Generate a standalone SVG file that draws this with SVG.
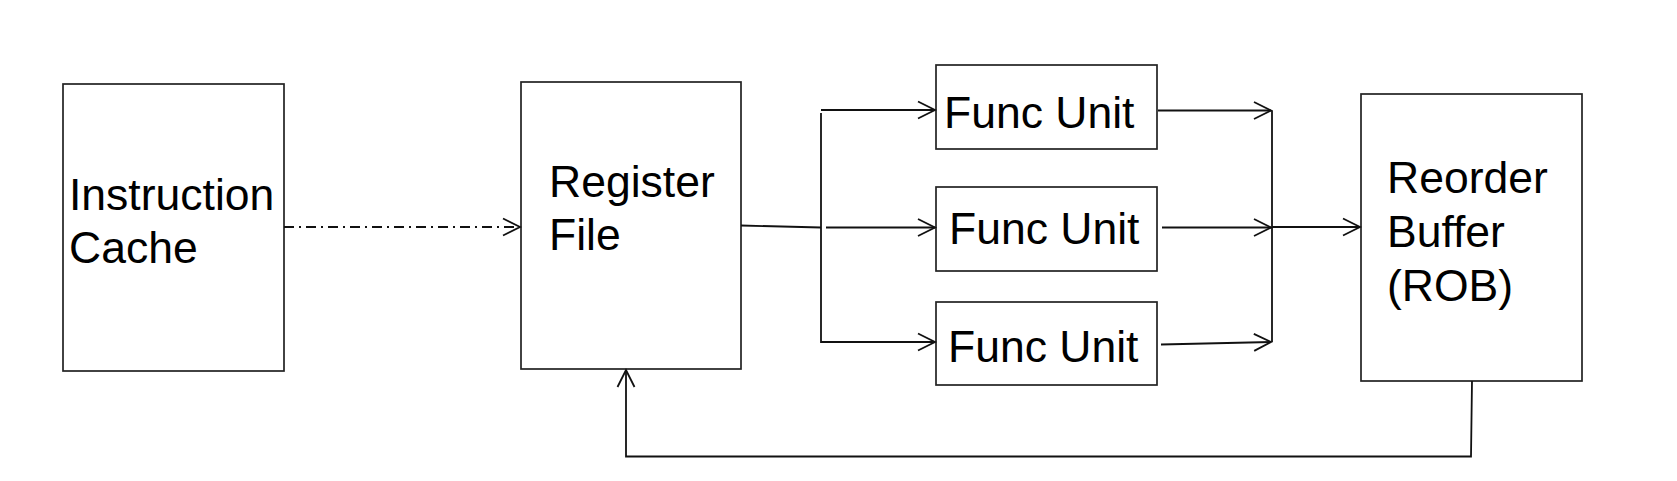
<svg xmlns="http://www.w3.org/2000/svg" width="1677" height="481" viewBox="0 0 1677 481">
<style>
.box{fill:#fff;stroke:#222;stroke-width:1.7}
.lbl{font-family:"Liberation Sans",Arial,sans-serif;font-size:44.5px;fill:#000}
.ln{fill:none;stroke:#111;stroke-width:1.8}
</style>
<defs>
<marker id="arr" markerUnits="userSpaceOnUse" markerWidth="20" markerHeight="20" refX="17" refY="9" orient="auto" overflow="visible">
<path d="M0,0.5 L17,9 L0,17.5" fill="none" stroke="#111" stroke-width="1.8"/>
</marker>
</defs>
<rect width="1677" height="481" fill="#fff"/>
<g id="icache">
<rect class="box" x="63" y="84" width="221" height="287"/>
<text class="lbl" x="69" y="210">Instruction</text>
<text class="lbl" x="69" y="263">Cache</text>
</g>
<g id="regfile">
<rect class="box" x="521" y="82" width="220" height="287"/>
<text class="lbl" x="549" y="197">Register</text>
<text class="lbl" x="549" y="250">File</text>
</g>
<g id="fu1">
<rect class="box" x="936" y="65" width="221" height="84"/>
<text class="lbl" x="944" y="128">Func Unit</text>
</g>
<g id="fu2">
<rect class="box" x="936" y="187" width="221" height="84"/>
<text class="lbl" x="949" y="244">Func Unit</text>
</g>
<g id="fu3">
<rect class="box" x="936" y="302" width="221" height="83"/>
<text class="lbl" x="948" y="362">Func Unit</text>
</g>
<g id="rob">
<rect class="box" x="1361" y="94" width="221" height="287"/>
<text class="lbl" x="1387" y="193">Reorder</text>
<text class="lbl" x="1387" y="247">Buffer</text>
<text class="lbl" x="1387" y="301">(ROB)</text>
</g>
<g id="connectors">
<path class="ln" d="M284,227 L520,227" stroke-dasharray="10,5,2,5" marker-end="url(#arr)"/>
<path class="ln" d="M741,225.5 L821,227.5"/>
<path class="ln" d="M821,113 L821,343"/>
<path class="ln" d="M821,110 L935,110" marker-end="url(#arr)"/>
<path class="ln" d="M826,227.5 L935,227.5" marker-end="url(#arr)"/>
<path class="ln" d="M821,342 L935,342" marker-end="url(#arr)"/>
<path class="ln" d="M1158,110.5 L1271,110.5" marker-end="url(#arr)"/>
<path class="ln" d="M1162,227.5 L1271,227.5" marker-end="url(#arr)"/>
<path class="ln" d="M1161,344.5 L1271,342" marker-end="url(#arr)"/>
<path class="ln" d="M1272,110.5 L1272,342"/>
<path class="ln" d="M1272,227 L1360,227" marker-end="url(#arr)"/>
<path class="ln" d="M1472,381 L1471,456.5 L626,456.5 L626,370" marker-end="url(#arr)"/>
</g>
</svg>
